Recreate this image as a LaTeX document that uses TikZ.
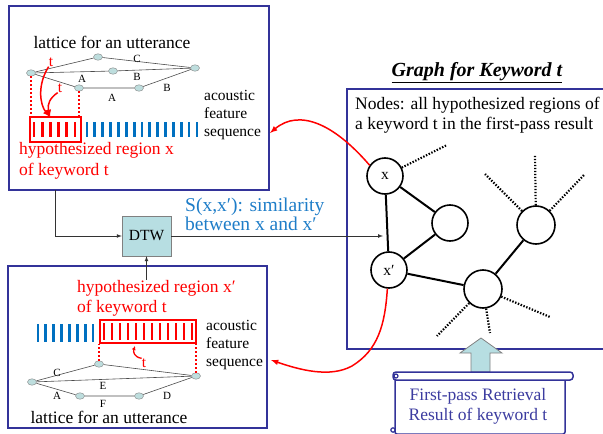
\documentclass[tikz,border=0pt]{standalone}
\usepackage{fontspec}
\setmainfont{Liberation Serif}
\usepackage{xcolor}
\usepackage{tikz}
\usetikzlibrary{shapes,arrows,arrows.meta,positioning,calc}

\definecolor{boxblue}{RGB}{51,51,153}
\definecolor{featblue}{RGB}{0,112,192}
\definecolor{simblue}{RGB}{30,125,200}
\definecolor{tealfill}{RGB}{183,222,226}
\definecolor{latfill}{RGB}{190,222,222}
\definecolor{scrolltxt}{RGB}{60,60,160}

\newcommand{\bigtxt}{\fontsize{17.5}{20}\selectfont}
\newcommand{\midtxt}{\fontsize{15.5}{18}\selectfont}
\newcommand{\smalltxt}{\fontsize{11}{13}\selectfont}

\tikzset{
  frame/.style={draw=boxblue, line width=1.8pt},
  latnode/.style={ellipse, draw=gray, fill=latfill, minimum width=9pt, minimum height=6.5pt, inner sep=0pt},
  latedge/.style={draw=black!70, line width=0.6pt},
  latlab/.style={font=\smalltxt, inner sep=0pt},
  grnode/.style={circle, draw, line width=1.6pt, fill=white, minimum size=36pt, inner sep=0pt, font=\midtxt},
  gredge/.style={line width=2pt},
  stub/.style={line width=2.2pt, dash pattern=on 1.4pt off 1.6pt},
  reddot/.style={red, line width=2.2pt, dash pattern=on 2pt off 2pt},
  redarr/.style={red, line width=1.5pt, -latex},
  hookarr/.style={red, line width=1.3pt, -{Latex[length=4pt,width=4pt]}},
  thinarr/.style={black!80, line width=0.7pt, -latex},
  featbar/.style={line width=2.8pt}
}

\begin{document}
\begin{tikzpicture}[x=1pt, y=-1pt]
\useasboundingbox (0,0) rectangle (603,434);

% Frames
\draw[frame] (9,6) rectangle (269,190);
\draw[frame] (8,266) rectangle (267,428);
\draw[frame] (347,89) rectangle (612,349);

% Upper lattice
\node[font=\bigtxt] (lattop) at (112,42) {lattice for an utterance};
\node[latnode] (n1) at (31,73) {};
\node[latnode] (n2) at (98,57) {};
\node[latnode] (n3) at (113,71) {};
\node[latnode] (n4) at (195,68) {};
\node[latnode] (n5) at (79,88) {};
\node[latnode] (n6) at (139,88) {};
\draw[latedge] (n1) -- (n2) -- (n4);
\draw[latedge] (n1) -- (n3) -- (n4);
\draw[latedge] (n1) -- (n5) -- (n6) -- (n4);
\node[latlab] at (137,59) {C};
\node[latlab] at (137,77) {B};
\node[latlab] at (82,79) {A};
\node[latlab] at (112,98) {A};
\node[latlab] at (167,88) {B};

% Upper feature sequence
\node[draw=red, line width=1.8pt, minimum width=51pt, minimum height=25pt, inner sep=0pt] (xreg) at (55.5,129.5) {};
\foreach \i in {0,...,5}
    \draw[featbar, red] ({34+8.2*\i},122) -- ++(0,15);
\foreach \i in {0,...,14}
    \draw[featbar, featblue] ({87+7.85*\i},122) -- ++(0,15);
\draw[reddot] (n1.south) -- (n1 |- xreg.north);
\draw[reddot] (n5.south) -- (n5 |- xreg.north);
\node[red, font=\midtxt, inner sep=0pt] (t1) at (51,62) {t};
\node[red, font=\midtxt, inner sep=0pt] (t2) at (60,88) {t};
\coordinate (xin) at (50,117);
\draw[redarr] (t1.south west) .. controls (37,85) and (40,105) .. (xin);
\draw[redarr] (t2.south west) .. controls (50,98) and (47,104) .. (xin);
\node[font=\midtxt, align=left, anchor=west, inner sep=0pt] (feattop) at (204,115) {acoustic\\feature\\sequence};
\node[red, font=\bigtxt, align=left, anchor=west, inner sep=0pt] (hx) at (19,161) {hypothesized region x\\[1pt]of keyword t};

% Lower lattice
\node[font=\bigtxt] (latbot) at (109,417) {lattice for an utterance};
\node[latnode] (m1) at (32,382) {};
\node[latnode] (m2) at (99,364) {};
\node[latnode] (m3) at (196,376) {};
\node[latnode] (m4) at (80,396) {};
\node[latnode] (m5) at (139,396) {};
\draw[latedge] (m1) -- (m2) -- (m3);
\draw[latedge] (m1) -- (m3);
\draw[latedge] (m1) -- (m4) -- (m5) -- (m3);
\node[latlab] at (57,373) {C};
\node[latlab] at (103,386) {E};
\node[latlab] at (57,396) {A};
\node[latlab] at (103,403.5) {F};
\node[latlab] at (167,396) {D};

% Lower feature sequence
\node[draw=red, line width=1.8pt, minimum width=96pt, minimum height=23pt, inner sep=0pt] (xpreg) at (148,331.5) {};
\foreach \i in {0,...,7}
    \draw[featbar, featblue] ({38+7.85*\i},324) -- ++(0,18);
\foreach \i in {0,...,11}
    \draw[featbar, red] ({104+8*\i},323) -- ++(0,17);
\draw[reddot] (m2.north) -- (m2 |- xpreg.south);
\draw[reddot] (m3.north) -- (m3 |- xpreg.south);
\node[red, font=\midtxt, inner sep=0pt] (t3) at (144,363) {t};
\coordinate (xpin) at (135,346);
\draw[hookarr] (t3.north west) .. controls (134,357) and (133,352) .. (xpin);
\node[font=\midtxt, align=left, anchor=west, inner sep=0pt] (featbot) at (206,345) {acoustic\\feature\\sequence};
\node[red, font=\bigtxt, align=left, anchor=west, inner sep=0pt] (hxp) at (77,298) {hypothesized region x′\\of keyword t};

% DTW
\node[draw=gray, fill=tealfill, minimum width=49pt, minimum height=40pt, font=\midtxt] (dtw) at (146.5,236) {DTW};
\coordinate (xsrc) at (55,190);
\draw[thinarr] (xsrc) |- (dtw.west);
\draw[thinarr] (dtw.south |- hxp.north) -- (dtw.south);
\coordinate (simend) at (383,236);
\draw[thinarr] (dtw.east) -- (simend);
\node[simblue, align=left, anchor=west, inner sep=0pt,
      font={\fontsize{19.5}{18.5}\selectfont\lineskiplimit=-8pt}] (sim) at (185,214.5) {S(x,x′): similarity\\between x and x′};

% Graph
\node[font=\fontsize{20}{24}\selectfont\bfseries\itshape] (gtitle) at (477,73) {\underline{Graph for Keyword t}};
\node[font=\bigtxt, align=left, anchor=west, inner sep=0pt] (nodes) at (355,115) {Nodes: all hypothesized regions of\\a keyword t in the first-pass result};
\node[grnode] (x) at (385,176) {x};
\node[grnode] (c2) at (450,223) {};
\node[grnode] (xp) at (389,270) {x′};
\node[grnode, minimum size=38pt] (c4) at (483,289) {};
\node[grnode, minimum size=38pt] (c5) at (536,225) {};
\draw[gredge] (x) -- (xp);
\draw[gredge] (x) -- (c2) -- (xp);
\draw[gredge] (xp) -- (c4) -- (c5);
\coordinate (s1) at (447,145);
\coordinate (s2) at (535,155);
\coordinate (s3) at (485,174);
\coordinate (s4) at (584,175);
\coordinate (s5) at (437,336);
\coordinate (s6) at (490,333);
\coordinate (s7) at (550,317);
\draw[stub] (x) -- (s1);
\draw[stub] (c5) -- (s2);
\draw[stub] (c5) -- (s3);
\draw[stub] (c5) -- (s4);
\draw[stub] (c4) -- (s5);
\draw[stub] (c4) -- (s6);
\draw[stub] (c4) -- (s7);

% Red links to the utterances
\coordinate (topin) at (270,133);
\coordinate (botin) at (271,360);
\draw[redarr] (x.145) .. controls (335,125) and (300,108) .. (topin);
\draw[redarr] (xp.265) .. controls (385,325) and (378,350) .. (352,366)
    .. controls (330,378) and (300,370) .. (botin);

% First-pass result
\draw[gray, fill=tealfill, line width=0.8pt] (471,372) -- (471,353) -- (460,353) -- (481,338)
    -- (502,353) -- (490,353) -- (490,372) -- cycle;
\draw[boxblue, line width=1.5pt, fill=white, rounded corners=2pt] (395,377) rectangle (565,434);
\draw[boxblue, line width=1.5pt, fill=white, rounded corners=3pt] (393,372) rectangle (573,380);
\draw[boxblue, line width=1.2pt] (396,376) circle (2pt);
\draw[boxblue, line width=1.2pt] (393,430) circle (2.2pt);
\node[scrolltxt, font=\bigtxt, align=center] (fpr) at (478,406) {First-pass Retrieval\\Result of keyword t};
\end{tikzpicture}
\end{document}
